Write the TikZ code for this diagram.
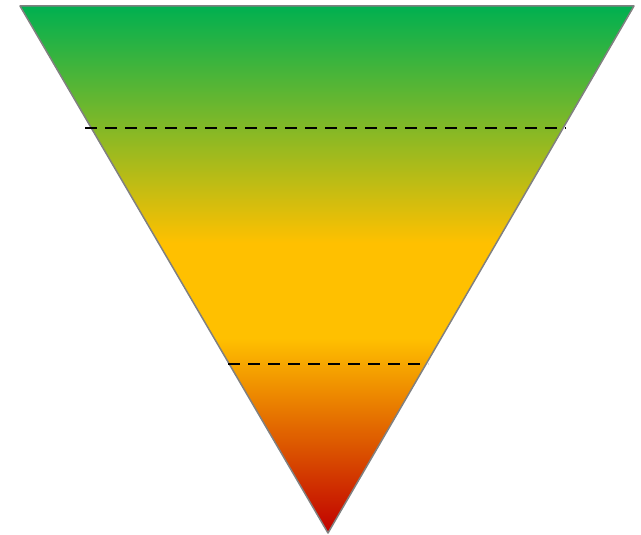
\documentclass[tikz,border=0pt]{standalone}
\usetikzlibrary{calc}
\definecolor{topgreen}{HTML}{00B050}
\definecolor{midamber}{HTML}{FFC000}
\definecolor{tipred}{HTML}{C00000}
\definecolor{rim}{HTML}{808080}
\pgfdeclareverticalshading{funnelfade}{100bp}{
  color(0bp)=(tipred); color(25bp)=(tipred);
  color(43.5bp)=(midamber); color(52.5bp)=(midamber);
  color(75bp)=(topgreen); color(100bp)=(topgreen)}
\tikzset{
  funnel/.style={draw=rim, line width=1.5pt, line join=round, shading=funnelfade},
  split/.style ={black, line width=2pt, dash pattern=on 12pt off 8pt},
}
\begin{document}
\begin{tikzpicture}[x=1pt, y=-1pt]
  \useasboundingbox (0,0) rectangle (641,535);
  % inverted triangle
  \coordinate (TL) at (20,6);
  \coordinate (TR) at (634,6);
  \coordinate (B)  at (328,533);
  \shade[funnel] (TL) -- (TR) -- (B) -- cycle;
  % level lines
  \coordinate (L1a) at (85,128);
  \coordinate (L1b) at (566,128);
  \coordinate (L2a) at (228,364);
  \coordinate (L2b) at (428,364);
  \draw[split] (L1a) -- (L1b);
  \draw[split] (L2a) -- (L2b);
\end{tikzpicture}
\end{document}
